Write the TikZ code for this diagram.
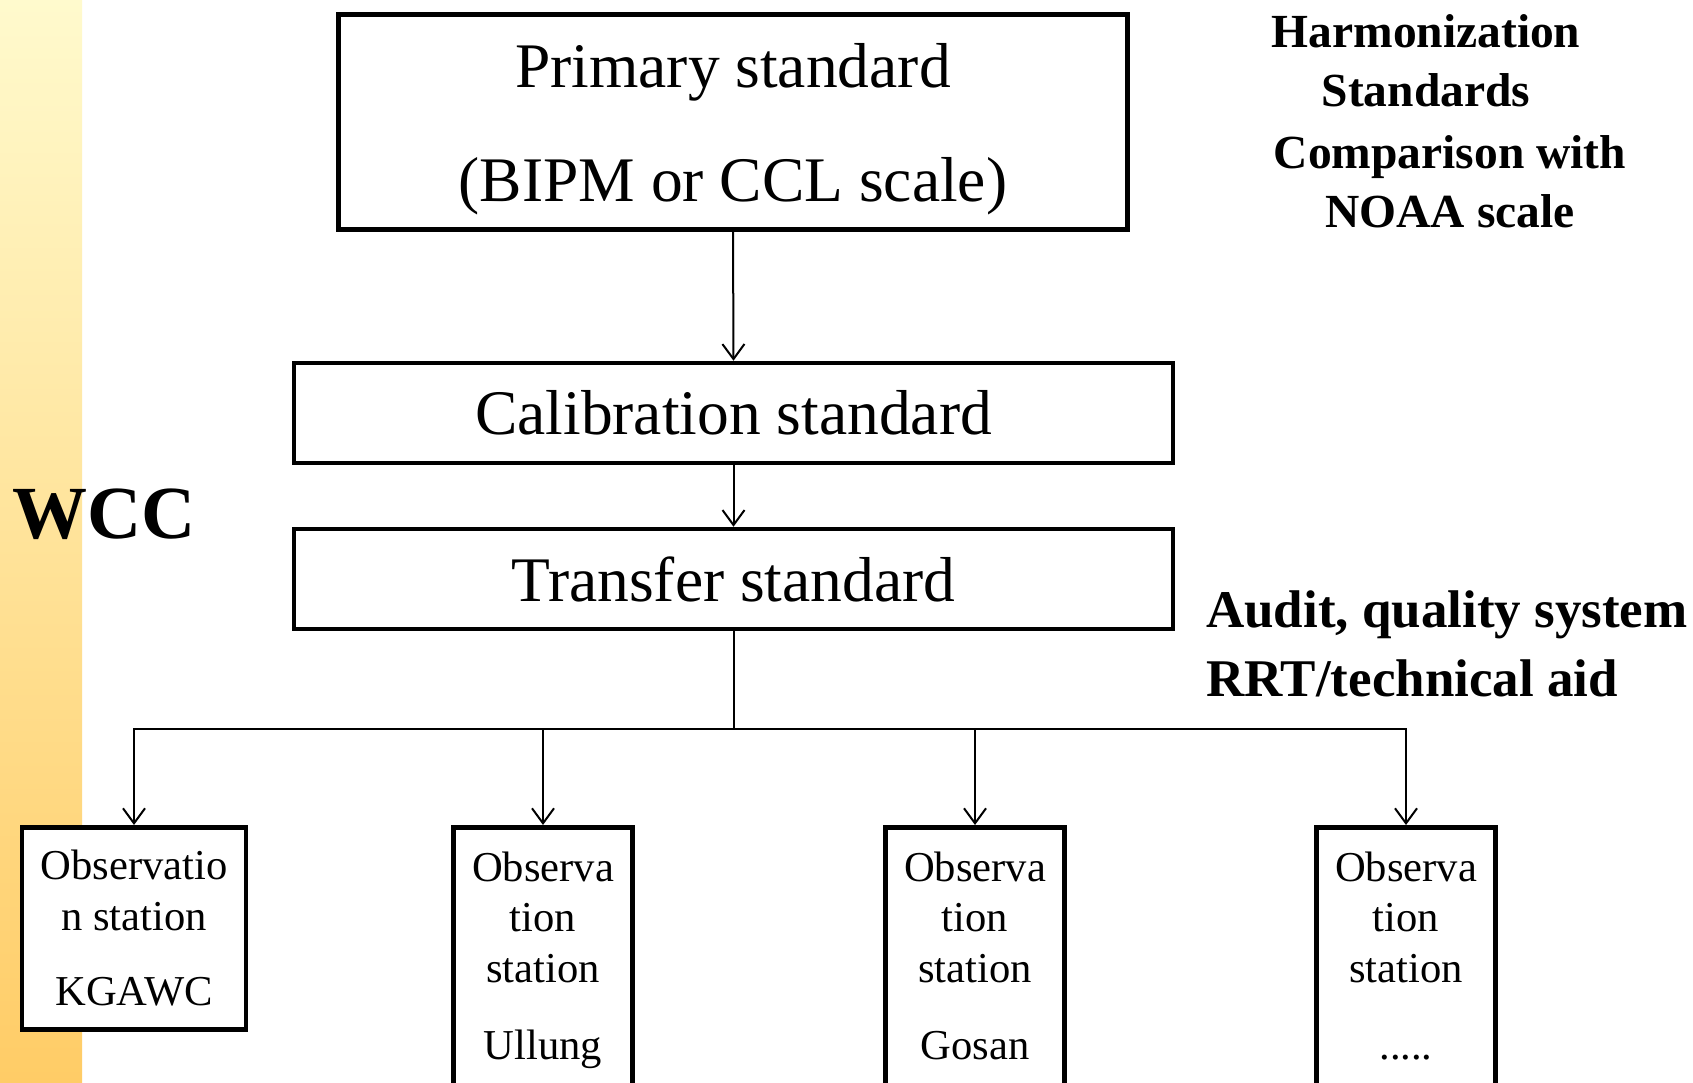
\documentclass[tikz,border=0pt]{standalone}
\usepackage{fontspec}
\setmainfont{Liberation Serif}
\usetikzlibrary{arrows.meta}
\definecolor{striptop}{RGB}{255,250,205}
\definecolor{stripbot}{RGB}{255,204,102}
\begin{document}
\begin{tikzpicture}[x=1pt,y=-1pt,
  bigbox/.style={draw=black,line width=4.5pt,fill=white,inner sep=0pt,align=center,
    font=\fontsize{63.5}{114}\selectfont},
  stbox/.style={draw=black,line width=4.5pt,fill=white,inner sep=0pt,align=center,
    anchor=north,minimum width=179pt,font=\fontsize{42.6}{50.5}\selectfont},
  conn/.style={line width=2pt,draw=black},
  arr/.style={conn,-{Straight Barb[length=15pt,width=22pt,line width=2pt]}},
  boldtxt/.style={inner sep=0pt,font=\bfseries\fontsize{47.5}{59}\selectfont,align=center}
]
\useasboundingbox (0,0) rectangle (1693,1083);
\fill[white] (0,0) rectangle (1693,1083);
\shade[top color=striptop,bottom color=stripbot] (0,0) rectangle (82,1083);

% top boxes
\node[bigbox,minimum width=789pt,minimum height=215pt] (prim) at (733,122)
  {\rule{0pt}{59pt}Primary standard\\(BIPM or CCL scale)};
\node[bigbox,minimum width=879pt,minimum height=100pt] (cal) at (733.5,413)
  {Calibration standard};
\node[bigbox,minimum width=879pt,minimum height=100pt] (trans) at (733.5,579)
  {Transfer standard};

% station boxes
\node[stbox,minimum width=224pt,minimum height=202pt] (s1) at (134,825)
  {Observatio\\n station\\[24.5pt]KGAWC};
\node[stbox,minimum height=266pt] (s2) at (543,825)
  {Observa\\tion\\station\\[26.5pt]Ullung};
\node[stbox,minimum height=266pt] (s3) at (975,825)
  {Observa\\tion\\station\\[26.5pt]Gosan\vphantom{g}};
\node[stbox,minimum height=266pt] (s4) at (1406,825)
  {Observa\\tion\\station\\[26.5pt].....\vphantom{g}};

% connectors
\draw[arr] (prim.south) -- (cal.north);
\draw[arr] (cal.south) -- (trans.north);
\coordinate (j) at (733.5,729);
\draw[conn] (trans.south) -- (j);
\draw[arr] (j) -| (s1.north);
\draw[arr] (j) -| (s2.north);
\draw[arr] (j) -| (s3.north);
\draw[arr] (j) -| (s4.north);

% side texts
\node[inner sep=0pt,anchor=west,font=\bfseries\fontsize{75}{80}\selectfont] (wcc) at (12,514) {WCC};
\node[boldtxt] (harm) at (1426,60.5) {Harmonization\\Standards};
\node[boldtxt] (comp) at (1450,181.5) {Comparison with\\NOAA scale};
\node[inner sep=0pt,anchor=west,align=left,font=\bfseries\fontsize{53}{69}\selectfont] (audit) at (1206,644)
  {Audit, quality system\\RRT/technical aid};
\end{tikzpicture}
\end{document}
